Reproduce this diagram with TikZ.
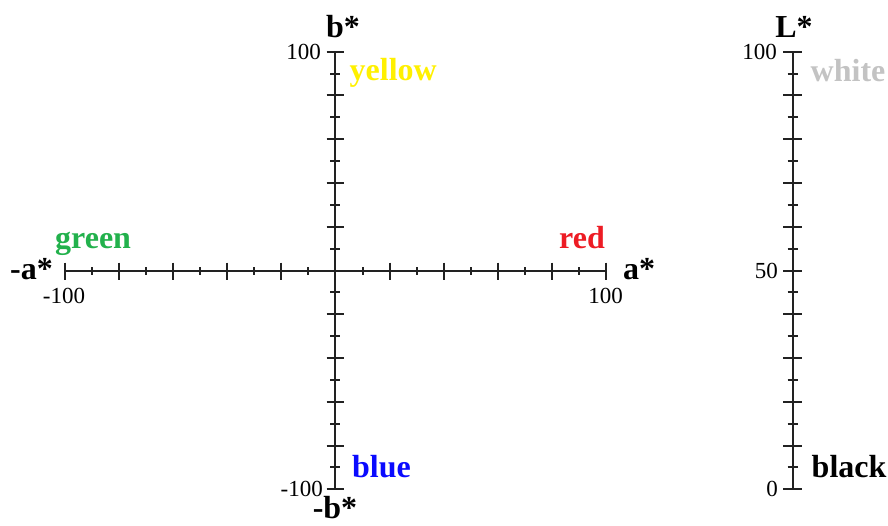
\documentclass[tikz,border=0pt]{standalone}
\usepackage{fontspec}
\setmainfont{Liberation Serif}
\definecolor{axiscol}{HTML}{222222}
\definecolor{labgreen}{RGB}{34,177,76}
\definecolor{labred}{RGB}{237,28,36}
\definecolor{labblue}{RGB}{10,10,255}
\definecolor{labyellow}{RGB}{255,240,0}
\definecolor{labwhite}{RGB}{195,195,195}
\begin{document}
\begin{tikzpicture}[x=1pt,y=-1pt,
  axisline/.style={draw=axiscol,line width=2pt},
  tickline/.style={draw=axiscol,line width=2pt},
  numlab/.style={inner sep=0pt,font=\fontsize{23}{23}\selectfont},
  axlab/.style={inner sep=0pt,font=\fontsize{32}{32}\selectfont\bfseries},
  collab/.style={inner sep=0pt,font=\fontsize{32}{32}\selectfont\bfseries}]
\useasboundingbox (0,0) rectangle (888,525);
% a* axis
\coordinate (aL) at (65,271);
\coordinate (aR) at (606,271);
\draw[axisline] (aL) -- (aR);
\foreach \k in {0,2,4,6,8,12,14,16,18,20}{
  \draw[tickline] ({65+27.05*\k},262.5) -- ({65+27.05*\k},279.5);
}
\foreach \k in {1,3,...,19}{
  \draw[tickline] ({65+27.05*\k},267) -- ({65+27.05*\k},275);
}
% b* axis
\coordinate (bT) at (335,51.7);
\coordinate (bB) at (335,489.3);
\draw[axisline] (bT) -- (bB);
\foreach \k in {0,2,4,6,8,12,14,16,18,20}{
  \draw[tickline] (326.5,{51.7+21.88*\k}) -- (343.5,{51.7+21.88*\k});
}
\foreach \k in {1,3,...,19}{
  \draw[tickline] (330,{51.7+21.88*\k}) -- (340,{51.7+21.88*\k});
}
% L* axis
\coordinate (LT) at (792.5,51.7);
\coordinate (LB) at (792.5,489.3);
\draw[axisline] (LT) -- (LB);
\foreach \k in {0,2,...,20}{
  \draw[tickline] (783,{51.7+21.88*\k}) -- (802,{51.7+21.88*\k});
}
\foreach \k in {1,3,...,19}{
  \draw[tickline] (787.5,{51.7+21.88*\k}) -- (797.5,{51.7+21.88*\k});
}
% axis labels
\node[axlab,anchor=base east] (nega) at (53,279) {-a*};
\node[axlab,anchor=base west] (posa) at (623,279) {a*};
\node[axlab,anchor=base] (posb) at (343,37) {b*};
\node[axlab,anchor=base] (negb) at (335,518) {-b*};
\node[axlab,anchor=base] (Lstar) at (794,37) {L*};
% numbers
\node[numlab,anchor=base] (n1) at (64,303) {-100};
\node[numlab,anchor=base] (n2) at (605.5,303) {100};
\node[numlab,anchor=base east] (n3) at (321,59.5) {100};
\node[numlab,anchor=base east] (n4) at (323,496) {-100};
\node[numlab,anchor=base east] (n5) at (777,59.5) {100};
\node[numlab,anchor=base east] (n6) at (778,278.5) {50};
\node[numlab,anchor=base east] (n7) at (778,496.5) {0};
% colour labels
\node[collab,text=labgreen,anchor=base west] (green) at (55,248) {green};
\node[collab,text=labred,anchor=base east] (red) at (605,248) {red};
\node[collab,text=labyellow,anchor=base west] (yellow) at (349.5,80.5) {yellow};
\node[collab,text=labblue,anchor=base west] (blue) at (352,477.5) {blue};
\node[collab,text=labwhite,anchor=base west] (white) at (810.5,81.5) {white};
\node[collab,text=black,anchor=base west] (black) at (811.5,477.5) {black};
\end{tikzpicture}
\end{document}
